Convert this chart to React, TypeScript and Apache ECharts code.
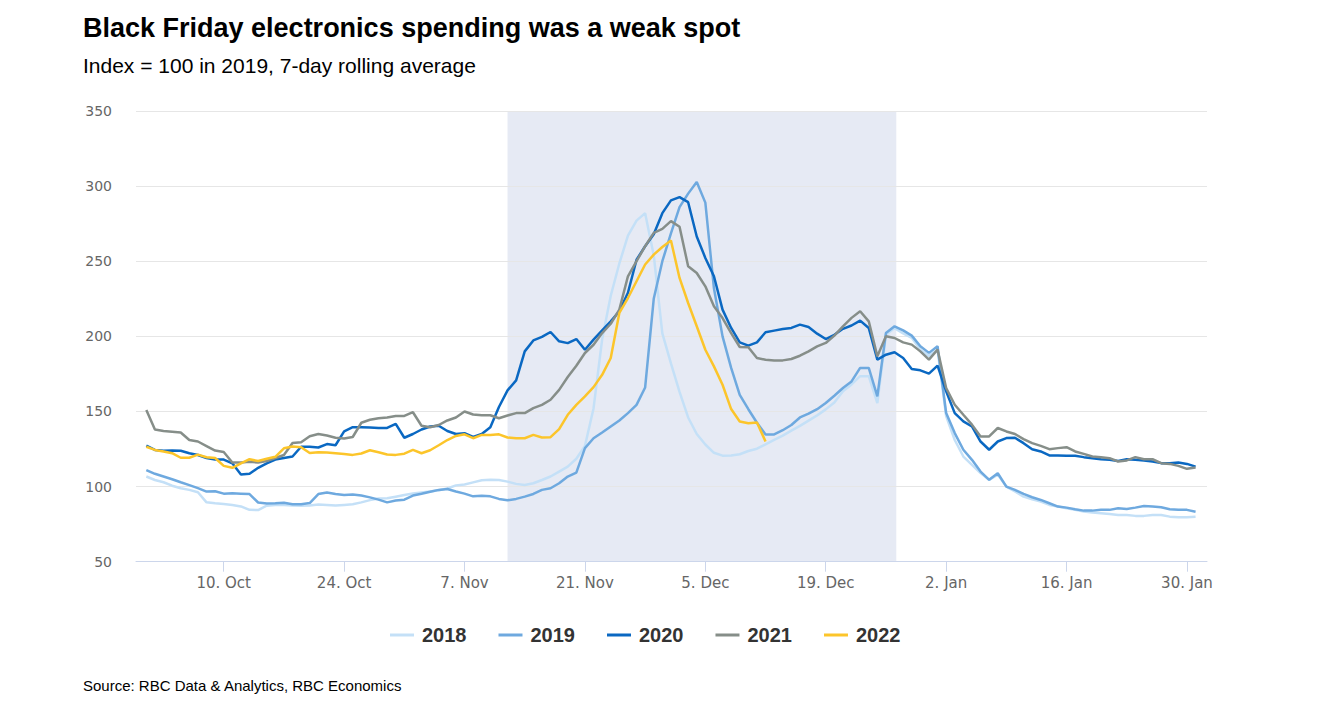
import React, { useEffect, useRef } from 'react';
import * as echarts from 'echarts';

// Day index 0 = 1 Oct, 122 = 31 Jan
const years = ['2018', '2019', '2020', '2021', '2022'];
const colors = ['#c4e0f7', '#6ea9df', '#0a68c2', '#868e89', '#fcc52a'];

const tickDays = [9, 23, 37, 51, 65, 79, 93, 107, 121];
const tickLabels = ['10. Oct', '24. Oct', '7. Nov', '21. Nov', '5. Dec', '19. Dec', '2. Jan', '16. Jan', '30. Jan'];

// Shaded holiday period (day index): 12 Nov – 27 Dec
const band = [42, 87.2];

const v2018 = [
  106.7, 104.4, 102.9, 100.6, 98.9, 97.8, 96.2, 89.5, 88.9, 88.4,
  87.8, 86.8, 84.5, 84.4, 87.3, 87.8, 87.8, 87.4, 87.2, 87.4,
  88, 87.8, 87.4, 87.8, 88.2, 89.5, 91, 92, 92.2, 93.3,
  94.4, 95.4, 96.1, 96.7, 97.6, 98.7, 100.8, 101.4, 102.8, 104.2,
  104.6, 104.4, 103.3, 101.8, 101.1, 102.2, 104.4, 106.7, 110, 113.3,
  118.5, 127, 152, 198, 227, 248.5, 267, 277, 282, 254,
  202, 182, 163, 146, 135, 128, 122.5, 120.6, 120.7, 121.5,
  123.7, 125.2, 128.1, 131.1, 133.9, 137.2, 140.4, 143.9, 147.4, 151.4,
  156, 163.5, 168, 173.5, 173.5, 155.6, 201, 205.5, 202, 199,
  191, 187, 191, 147, 131, 120, 114.5, 109, 104.5, 108,
  100, 96.7, 93.3, 91.6, 90, 87.8, 86.7, 85.6, 84.5, 83.4,
  82.7, 82.3, 81.8, 81.1, 81.1, 80.5, 80.5, 81.1, 81.1, 80,
  79.6, 79.6, 80,
];

const v2019 = [
  111, 108.5, 106.7, 104.9, 102.9, 101, 99, 96.7, 96.9, 95.3,
  95.5, 95.3, 95, 89.4, 88.8, 88.9, 89.2, 88.2, 88.3, 89,
  95, 96.1, 95.1, 94.4, 94.8, 94, 92.8, 91.3, 89.5, 90.7,
  91.3, 94, 95.2, 96.5, 97.8, 98.4, 96.7, 95.3, 93.5, 93.9,
  93.5, 91.8, 90.9, 91.8, 93.3, 95.1, 97.8, 98.9, 102.2, 106.7,
  109.3, 125.6, 132.2, 136, 140, 144, 148.9, 154.4, 166, 225,
  250, 268.5, 286, 295, 302.8, 289, 232, 200, 179, 161,
  151.5, 142.5, 134.6, 134.7, 137.5, 141, 146, 148.5, 151.5, 155.6,
  160.5, 165.6, 170, 179, 179, 160, 202.3, 206.7, 204, 200.5,
  193.4, 189, 193.4, 149, 135.6, 124.5, 117.8, 110, 104.5, 108.9,
  100, 97.8, 95.1, 92.9, 91.1, 88.9, 86.7, 86, 84.9, 84,
  84, 84.5, 84.5, 85.6, 85.1, 86, 87.1, 86.7, 86.2, 84.9,
  84.5, 84.5, 83.3,
];

const v2020 = [
  127.3, 124.4, 123.8, 124, 123.8, 122.2, 121, 119, 118, 118,
  115.5, 108, 108.5, 112.5, 115.5, 118, 119, 120, 126.5, 126.5,
  126, 128.3, 127.5, 136.7, 139.5, 139.5, 139.3, 139, 139, 141.8,
  132.5, 135, 138, 140, 140.5, 137, 135, 135.5, 133, 135,
  139.5, 153, 164, 170.7, 190, 197.3, 199.6, 202.9, 196.7, 195.5,
  198.2, 191.1, 197.8, 204, 210, 216.7, 229, 251, 260, 268,
  282, 290.5, 292.7, 289.3, 266.5, 252.2, 240, 217.8, 205.6, 196,
  193.8, 196, 202.7, 203.8, 204.9, 205.6, 207.8, 206.2, 201.8, 198.2,
  201, 205, 207.2, 210.5, 205.6, 184.5, 187.8, 189.4, 185.6, 178.3,
  177.4, 175.2, 180.5, 163.4, 148.9, 143.4, 140, 130, 124.5, 130,
  132.3, 132.5, 128.9, 124.9, 123.4, 120.7, 120.7, 120.5, 120.5, 119.6,
  118.9, 118.2, 117.8, 117.1, 118.2, 117.8, 117.4, 116.7, 115.6, 115.6,
  116, 115.1, 113.3,
];

const v2021 = [
  151, 138, 137, 136.5, 136, 131, 130, 127, 124, 123,
  116, 116, 116.5, 116, 117, 119, 121, 129, 129.5, 133.5,
  135, 134, 132.5, 132, 133, 142.5, 144.5, 145.5, 146, 147,
  147, 149.5, 140.5, 139.5, 141, 144, 146, 150, 148, 147.5,
  147.5, 145.5, 147.3, 148.9, 148.9, 152.2, 154.4, 157.8, 164.4, 172.9,
  180.4, 188.9, 194.4, 202.2, 208.4, 217.8, 240, 250, 260, 268.9,
  271.5, 276.7, 272.9, 246.7, 242.2, 233.3, 220, 212.2, 202.2, 192.9,
  192.7, 185.6, 184.4, 184, 184, 184.9, 187.1, 190, 193.3, 195.6,
  200.5, 206.7, 212.3, 216.7, 210, 186.7, 200, 198.9, 196, 194.5,
  190, 184.5, 191.2, 165.6, 154.5, 147.8, 141.2, 133.4, 133.4, 139,
  136.7, 135, 131.6, 128.9, 127.1, 124.9, 125.6, 126.2, 123.4, 121.8,
  120, 119.6, 118.9, 116.7, 117.4, 119.6, 118.2, 118.2, 115.6, 115.1,
  113.8, 111.8, 112.7,
];

const v2022 = [
  126.5, 124.4, 123.3, 122.2, 119.2, 119.2, 121.3, 119.5, 119, 113.8,
  112.5, 115.5, 118.2, 117, 118.5, 119.8, 125.5, 126.7, 126.2, 122.4,
  122.8, 122.7, 122.2, 121.7, 121.1, 122, 124.2, 122.8, 121.3, 121.1,
  121.9, 124.4, 122.2, 124.2, 127.5, 131, 133.7, 134.8, 132.2, 134.4,
  134.4, 134.8, 132.7, 132.2, 132.2, 134.4, 132.7, 132.9, 138.2, 147.8,
  154.4, 160, 166.2, 174.4, 185.6, 215.6, 225.5, 236.7, 247.8, 254.4,
  259.5, 263.8, 238.9, 222.2, 206.7, 191.1, 180, 167.8, 151.6, 143.3,
  142.2, 142.7, 130,
];

const seriesValues = [v2018, v2019, v2020, v2021, v2022];

const SANS = '"Liberation Sans", Arial, Helvetica, sans-serif';
const AXISFONT = '"DejaVu Sans", sans-serif';

export default function App() {
  const ref = useRef<HTMLDivElement>(null);

  useEffect(() => {
    if (!ref.current) return;
    const chart = echarts.init(ref.current, null, { renderer: 'svg' });

    const series: any[] = years.map((y, k) => ({
      name: y,
      type: 'line',
      z: 3,
      data: seriesValues[k].map((v, i) => [i, v]),
      showSymbol: false,
      symbol: 'none',
      color: colors[k],
      lineStyle: { width: 2.5, color: colors[k] },
      emphasis: { disabled: true },
      silent: true,
    }));
    series.push({
      name: 'band',
      type: 'line',
      data: [],
      silent: true,
      markArea: {
        silent: true,
        itemStyle: { color: '#e6eaf4' },
        data: [[{ xAxis: band[0] }, { xAxis: band[1] }]],
      },
    });

    chart.setOption({
      animation: false,
      backgroundColor: '#ffffff',
      title: [
        {
          text: 'Black Friday electronics spending was a weak spot',
          left: 83,
          top: 14,
          padding: 0,
          textStyle: { fontFamily: SANS, fontSize: 27, fontWeight: 'bold', color: '#000000' },
        },
        {
          text: 'Index = 100 in 2019, 7-day rolling average',
          left: 83,
          top: 55,
          padding: 0,
          textStyle: { fontFamily: SANS, fontSize: 21, fontWeight: 'normal', color: '#000000' },
        },
        {
          text: 'Source: RBC Data & Analytics, RBC Economics',
          left: 83,
          top: 678,
          padding: 0,
          textStyle: { fontFamily: SANS, fontSize: 15, fontWeight: 'normal', color: '#000000' },
        },
      ],
      legend: {
        data: years,
        left: 390,
        top: 625,
        padding: 0,
        icon: 'rect',
        itemWidth: 24,
        itemHeight: 3,
        itemGap: 32,
        selectedMode: false,
        textStyle: {
          fontFamily: SANS,
          fontSize: 20,
          fontWeight: 'bold',
          color: '#333333',
          padding: [0, 0, 0, 3],
        },
      },
      grid: { left: 136, right: 121, top: 111, bottom: 142.3, containLabel: false },
      xAxis: {
        type: 'value',
        min: -1.2,
        max: 123.33,
        z: 2,
        axisLine: { show: true, lineStyle: { color: '#ccd6eb', width: 1 } },
        axisTick: {
          show: true,
          length: 10,
          customValues: tickDays,
          lineStyle: { color: '#ccd6eb', width: 1 },
        },
        axisLabel: {
          customValues: tickDays,
          margin: 14,
          fontFamily: AXISFONT,
          fontSize: 15,
          color: '#666666',
          formatter: (val: number) => {
            const idx = tickDays.indexOf(Math.round(val));
            return idx >= 0 ? tickLabels[idx] : '';
          },
        },
        splitLine: { show: false },
      },
      yAxis: {
        type: 'value',
        min: 50,
        max: 350,
        interval: 50,
        z: 2,
        axisLine: { show: false },
        axisTick: { show: false },
        axisLabel: {
          margin: 24,
          fontFamily: AXISFONT,
          fontSize: 14,
          color: '#666666',
        },
        splitLine: { show: true, lineStyle: { color: '#e6e6e6', width: 1 } },
      },
      series,
    });

    return () => chart.dispose();
  }, []);

  return (
    <div
      ref={ref}
      style={{ position: 'absolute', left: 0, top: 0, width: 1328, height: 704, background: '#fff' }}
    />
  );
}
